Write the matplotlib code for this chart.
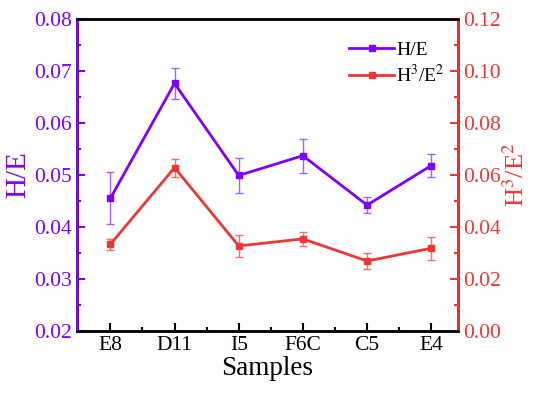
import numpy as np
import matplotlib.pyplot as plt
from matplotlib.ticker import MultipleLocator
from matplotlib.lines import Line2D

plt.rcParams['font.family'] = ['Liberation Serif', 'DejaVu Serif']
plt.rcParams['mathtext.fontset'] = 'stix'

samples = ['E8', 'D11', 'I5', 'F6C', 'C5', 'E4']
he = [0.0455, 0.0676, 0.0499, 0.0537, 0.0442, 0.0518]
he_err = [0.0050, 0.0030, 0.0033, 0.0033, 0.0015, 0.0022]
h3e2 = [0.0333, 0.0628, 0.0327, 0.0354, 0.0269, 0.0318]
h3e2_err = [0.0021, 0.0035, 0.0043, 0.0026, 0.0032, 0.0045]

purple = '#7F00FF'
red = '#F03535'

fig, ax = plt.subplots(figsize=(5.5, 3.94), dpi=100)
fig.subplots_adjust(left=0.14, right=0.833, top=0.952, bottom=0.16)
ax2 = ax.twinx()

x = np.arange(len(samples))
ax.errorbar(x, he, yerr=he_err, color=purple, marker='s', ms=5, lw=2,
            ecolor='#A060FF', elinewidth=1, capsize=3, capthick=1)
ax2.errorbar(x, h3e2, yerr=h3e2_err, color=red, marker='s', ms=5, lw=2,
             ecolor='#F07070', elinewidth=1, capsize=3, capthick=1)

ax.set_xlim(-0.52, 5.42)
ax.set_ylim(0.02, 0.08)
ax2.set_ylim(0, 0.12)
ax.set_xticks(x)
ax.set_xticklabels(samples)
ax.xaxis.set_minor_locator(MultipleLocator(0.5))
ax.yaxis.set_major_locator(MultipleLocator(0.01))
ax.yaxis.set_minor_locator(MultipleLocator(0.005))
ax2.yaxis.set_major_locator(MultipleLocator(0.02))
ax2.yaxis.set_minor_locator(MultipleLocator(0.01))
ax.yaxis.set_major_formatter(plt.FormatStrFormatter('%.2f'))
ax2.yaxis.set_major_formatter(plt.FormatStrFormatter('%.2f'))

ax.tick_params(axis='both', which='both', direction='in', labelsize=15.5)
ax.tick_params(which='major', length=6, width=1.5)
ax.tick_params(which='minor', length=3, width=1.5)
ax.tick_params(axis='y', which='both', colors=purple)
ax.tick_params(axis='x', which='both', top=False)
ax2.tick_params(axis='y', which='both', direction='in', colors=red, labelsize=15.5)
ax2.tick_params(which='major', length=6, width=1.5)
ax2.tick_params(which='minor', length=3, width=1.5)

for a in (ax, ax2):
    for s in a.spines.values():
        s.set_linewidth(1.8)
ax2.spines['left'].set_color(purple)
ax2.spines['right'].set_color(red)
ax2.spines['top'].set_color('black')
ax2.spines['bottom'].set_color('black')

ax.set_xlabel('Samples', fontsize=19.5, labelpad=1)
ax.set_ylabel('H/E', fontsize=21, color=purple, labelpad=2)
ax2.set_ylabel('H$^3$/E$^2$', fontsize=19, color=red, labelpad=2)

handles = [Line2D([], [], color=purple, marker='s', ms=5, lw=2),
           Line2D([], [], color=red, marker='s', ms=5, lw=2)]
ax2.legend(handles, ['H/E', 'H$^3$/E$^2$'], loc='upper right',
           bbox_to_anchor=(1.01, 0.985), frameon=False, fontsize=14,
           handlelength=2.3, handletextpad=0.1, labelspacing=0.25)

plt.savefig('out.png', dpi=100)
